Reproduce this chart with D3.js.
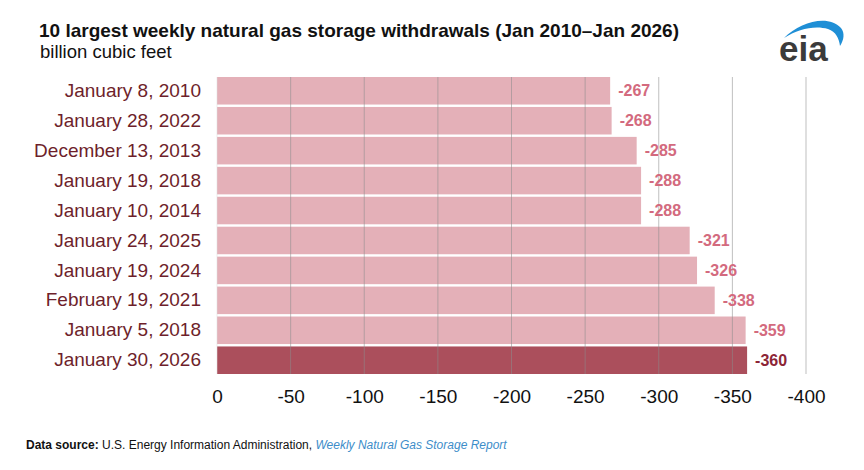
<!DOCTYPE html>
<html>
<head>
<meta charset="utf-8">
<script src="https://cdn.jsdelivr.net/npm/d3@7/dist/d3.min.js"></script>
<style>
    body { margin: 0; background: #fff; }
    svg { display: block; font-family: "Liberation Sans", Arial, sans-serif; }
</style>
</head>
<body>
<div class="chart_container"></div>
<script>
var dates = ["January 8, 2010", "January 28, 2022", "December 13, 2013", "January 19, 2018",
    "January 10, 2014", "January 24, 2025", "January 19, 2024", "February 19, 2021",
    "January 5, 2018", "January 30, 2026"];
var withdrawals = [-267, -268, -285, -288, -288, -321, -326, -338, -359, -360];
var highlight = ["January 30, 2026"];
var xTicks = [0, -50, -100, -150, -200, -250, -300, -350, -400];

var width = 864, height = 470;
var svg = d3.select(".chart_container").append("svg")
    .attr("width", width)
    .attr("height", height);

var x = d3.scaleLinear()
    .domain([0, -400])
    .range([217, 806]);
var y = d3.scaleBand()
    .domain(dates)
    .range([77, 374])
    .paddingInner(0.08);

/* bars */
svg.selectAll(".bar")
    .data(dates)
    .enter().append("rect")
    .attr("class", "bar")
    .attr("x", x(0))
    .attr("y", function(d){ return y(d); })
    .attr("width", function(d, i){ return x(withdrawals[i]) - x(0); })
    .attr("height", y.bandwidth())
    .attr("fill", function(d){ return highlight.indexOf(d) >= 0 ? "#ab4f5c" : "#e4b0b8"; });

/* gridlines over the bars */
svg.selectAll(".grid")
    .data(xTicks)
    .enter().append("line")
    .attr("class", "grid")
    .attr("x1", function(d){ return x(d); })
    .attr("x2", function(d){ return x(d); })
    .attr("y1", 77)
    .attr("y2", 374)
    .attr("stroke", function(d){ return d === 0 ? "#e0e0e0" : "#8c8c8c"; })
    .attr("stroke-opacity", 0.55)
    .attr("stroke-width", 1);

/* value labels */
svg.selectAll(".val")
    .data(dates)
    .enter().append("text")
    .attr("class", "val")
    .attr("x", function(d, i){ return x(withdrawals[i]) + 8; })
    .attr("y", function(d){ return y(d) + y.bandwidth() / 2; })
    .attr("dy", ".35em")
    .attr("font-size", 16)
    .attr("font-weight", "bold")
    .attr("fill", function(d){ return highlight.indexOf(d) >= 0 ? "#8c2536" : "#d36a7e"; })
    .text(function(d, i){ return String(withdrawals[i]); });

/* category axis */
var yAxis = svg.append("g")
    .attr("transform", "translate(" + 201 + ",0)")
    .call(d3.axisLeft(y).tickSize(0).tickPadding(0));
yAxis.select(".domain").remove();
yAxis.selectAll("text")
    .attr("font-size", 19)
    .attr("font-family", "Liberation Sans, Arial, sans-serif")
    .attr("fill", "#6e1f2b");

/* value axis */
var xAxis = svg.append("g")
    .attr("transform", "translate(0," + 389 + ")")
    .call(d3.axisBottom(x).tickValues(xTicks).tickSize(0).tickPadding(0)
        .tickFormat(function(d){ return String(d); }));
xAxis.select(".domain").remove();
xAxis.selectAll("text")
    .attr("font-size", 19)
    .attr("font-family", "Liberation Sans, Arial, sans-serif")
    .attr("fill", "#111");

/* titles */
svg.append("text")
    .attr("x", 39).attr("y", 37)
    .attr("font-size", 19)
    .attr("font-weight", "bold")
    .attr("fill", "#111")
    .text("10 largest weekly natural gas storage withdrawals (Jan 2010\u2013Jan 2026)");
svg.append("text")
    .attr("x", 40).attr("y", 58)
    .attr("font-size", 18.5)
    .attr("fill", "#111")
    .text("billion cubic feet");

/* eia logo */
var logo = svg.append("g");
logo.append("path")
    .attr("d", "M784,38 C800,22 828,14 841,28 C845,33 844,40 840,46 C839,38 836,32 828,29 C815,25 798,29 784,38 Z")
    .attr("fill", "#1f8fd6");
logo.append("text")
    .attr("x", 779).attr("y", 61)
    .attr("font-size", 35)
    .attr("font-weight", "bold")
    .attr("fill", "#3b3b3b")
    .text("eia");

/* footer */
var foot = svg.append("text")
    .attr("x", 26).attr("y", 449)
    .attr("font-size", 12)
    .attr("font-family", "Liberation Sans Narrow, Liberation Sans, Arial, sans-serif")
    .attr("fill", "#111");
foot.append("tspan").attr("font-weight", "bold").text("Data source: ");
foot.append("tspan").text("U.S. Energy Information Administration, ");
foot.append("tspan").attr("font-style", "italic").attr("fill", "#3d8dc9").text("Weekly Natural Gas Storage Report");
</script>
</body>
</html>
